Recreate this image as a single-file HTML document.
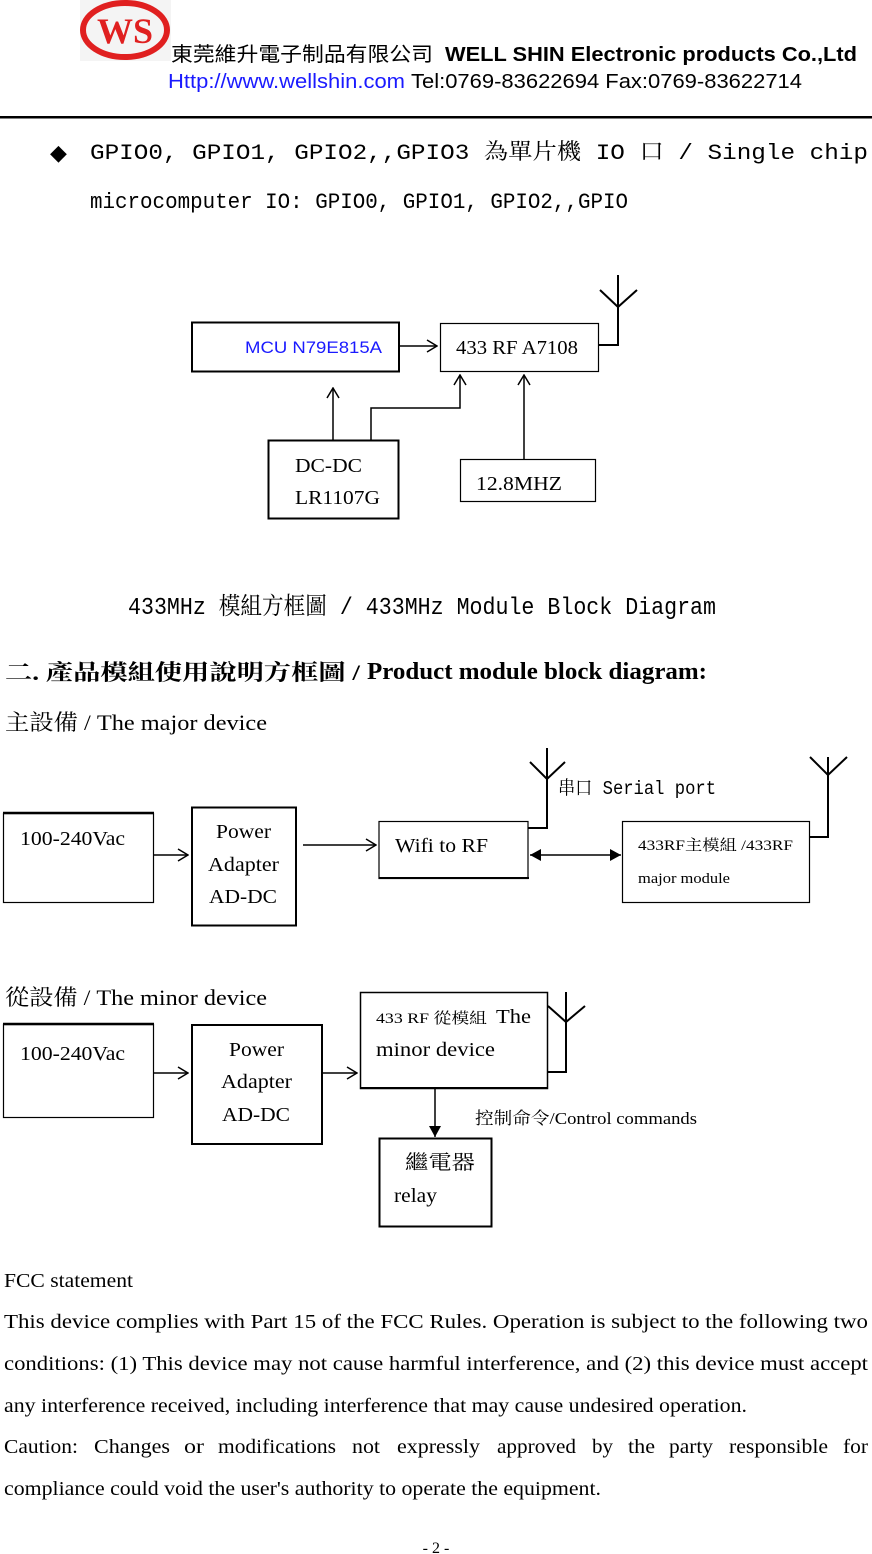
<!DOCTYPE html>
<html><head><meta charset="utf-8"><style>
html,body{margin:0;padding:0;background:#fff;}
svg{display:block;}
.s{font-family:"Liberation Serif","Noto Serif CJK SC",serif;}
.a{font-family:"Liberation Sans","Noto Sans CJK SC",sans-serif;}
.m{font-family:"Liberation Mono","Noto Serif CJK SC",monospace;}
</style></head><body>
<svg width="872" height="1554" viewBox="0 0 872 1554" xmlns="http://www.w3.org/2000/svg">
<defs>
<marker id="o" markerWidth="12" markerHeight="14" refX="11" refY="7" orient="auto" markerUnits="userSpaceOnUse"><path d="M1,1 L11,7 L1,13" fill="none" stroke="#000" stroke-width="1.5"/></marker>
<marker id="f" markerWidth="12" markerHeight="12" refX="11" refY="6" orient="auto-start-reverse" markerUnits="userSpaceOnUse"><path d="M0,0 L11,6 L0,12 z" fill="#000"/></marker>
</defs>
<rect x="80" y="0" width="91" height="61" fill="#f4f4f4"/>
<ellipse cx="125" cy="30" rx="42" ry="27" fill="none" stroke="#e02020" stroke-width="6"/>
<text x="125" y="43" text-anchor="middle" class="s" font-size="36" font-weight="bold" fill="#e02020">WS</text>
<text x="171" y="61" class="a" font-size="20" textLength="262" lengthAdjust="spacingAndGlyphs">東莞維升電子制品有限公司</text>
<text x="445" y="61" class="a" font-size="20" font-weight="bold" textLength="412" lengthAdjust="spacingAndGlyphs">WELL SHIN Electronic products Co.,Ltd</text>
<text x="168" y="88" class="a" font-size="20" fill="#1a1aff" textLength="237" lengthAdjust="spacingAndGlyphs">Http://www.wellshin.com</text>
<text x="411" y="88" class="a" font-size="20" textLength="391" lengthAdjust="spacingAndGlyphs">Tel:0769-83622694 Fax:0769-83622714</text>
<rect x="0" y="116" width="872" height="2.5" fill="#000"/>
<text x="50" y="160" font-size="22">◆</text>
<text x="90" y="159" class="m" font-size="22" textLength="778" lengthAdjust="spacingAndGlyphs">GPIO0,  GPIO1,  GPIO2,,GPIO3 為單片機 IO 口  / Single chip</text>
<text x="90" y="208" class="m" font-size="22" textLength="538" lengthAdjust="spacingAndGlyphs">microcomputer IO: GPIO0, GPIO1, GPIO2,,GPIO</text>

<g fill="none" stroke="#000">
<rect x="192" y="322.5" width="207" height="49" stroke-width="2"/>
<rect x="440.5" y="323.5" width="158" height="48" stroke-width="1.2"/>
<rect x="268.5" y="440.5" width="130" height="78" stroke-width="2"/>
<rect x="460.5" y="459.5" width="135" height="42" stroke-width="1.2"/>
<path d="M399,346 H437" stroke-width="1.5" marker-end="url(#o)"/>
<path d="M599,345 H618 V275 M600,290 L618,307 L637,290" stroke-width="2"/>
<path d="M333,440 V388" stroke-width="1.5" marker-end="url(#o)"/>
<path d="M371,440 V408 H460 V375" stroke-width="1.5" marker-end="url(#o)"/>
<path d="M524,459 V375" stroke-width="1.5" marker-end="url(#o)"/>
</g>
<text x="245" y="353" class="a" font-size="17" fill="#1a1aff" textLength="137" lengthAdjust="spacingAndGlyphs">MCU N79E815A</text>
<text x="456" y="354" class="s" font-size="20" textLength="122" lengthAdjust="spacingAndGlyphs">433 RF A7108</text>
<text x="295" y="472" class="s" font-size="20" textLength="67" lengthAdjust="spacingAndGlyphs">DC-DC</text>
<text x="295" y="504" class="s" font-size="20" textLength="85" lengthAdjust="spacingAndGlyphs">LR1107G</text>
<text x="476" y="490" class="s" font-size="20" textLength="86" lengthAdjust="spacingAndGlyphs">12.8MHZ</text>
<text x="128" y="614" class="m" font-size="24" textLength="588" lengthAdjust="spacingAndGlyphs">433MHz 模組方框圖 / 433MHz Module Block Diagram</text>

<text x="5" y="680" class="s" font-size="22" font-weight="bold" textLength="355" lengthAdjust="spacingAndGlyphs">二. 產品模組使用說明方框圖 /</text>
<text x="367" y="679" class="s" font-size="24" font-weight="bold" textLength="340" lengthAdjust="spacingAndGlyphs">Product module block diagram:</text>
<text x="5" y="730" class="s" font-size="22" textLength="262" lengthAdjust="spacingAndGlyphs">主設備 / The major device</text>

<g fill="none" stroke="#000">
<rect x="3.5" y="813.5" width="150" height="89" stroke-width="1.2"/>
<path d="M3,813 H154" stroke-width="2.5"/>
<rect x="192" y="807.5" width="104" height="118" stroke-width="2"/>
<rect x="379" y="821.5" width="149" height="57" stroke-width="1.2"/>
<path d="M379,878 H529" stroke-width="2"/>
<rect x="622.5" y="821.5" width="187" height="81" stroke-width="1.2"/>
<path d="M153,855 H188" stroke-width="1.5" marker-end="url(#o)"/>
<path d="M303,845 H376" stroke-width="1.5" marker-end="url(#o)"/>
<path d="M530,855 H621" stroke-width="1.5" marker-start="url(#f)" marker-end="url(#f)"/>
<path d="M528,828 H547 V748 M530,762 L547,779 L565,762" stroke-width="2"/>
<path d="M810,837 H828 V757 M810,757 L828,775 L847,757" stroke-width="2"/>
</g>
<text x="20" y="845" class="s" font-size="20" textLength="105" lengthAdjust="spacingAndGlyphs">100-240Vac</text>
<text x="216" y="838" class="s" font-size="20" textLength="55" lengthAdjust="spacingAndGlyphs">Power</text>
<text x="208" y="871" class="s" font-size="20" textLength="71" lengthAdjust="spacingAndGlyphs">Adapter</text>
<text x="209" y="903" class="s" font-size="20" textLength="68" lengthAdjust="spacingAndGlyphs">AD-DC</text>
<text x="395" y="852" class="s" font-size="20" textLength="93" lengthAdjust="spacingAndGlyphs">Wifi to RF</text>
<text x="638" y="850" class="s" font-size="15" textLength="155" lengthAdjust="spacingAndGlyphs">433RF主模組 /433RF</text>
<text x="638" y="883" class="s" font-size="15" textLength="92" lengthAdjust="spacingAndGlyphs">major module</text>
<text x="558" y="794" class="m" font-size="19" textLength="158" lengthAdjust="spacingAndGlyphs">串口 Serial port</text>

<text x="5" y="1005" class="s" font-size="22" textLength="262" lengthAdjust="spacingAndGlyphs">從設備 / The minor device</text>
<g fill="none" stroke="#000">
<rect x="3.5" y="1024.5" width="150" height="93" stroke-width="1.2"/>
<path d="M3,1024 H154" stroke-width="2.5"/>
<rect x="192" y="1025" width="130" height="119" stroke-width="2"/>
<rect x="360.5" y="992.5" width="187" height="96" stroke-width="1.5"/>
<path d="M360,1088 H548" stroke-width="2"/>
<rect x="379.5" y="1138.5" width="112" height="88" stroke-width="2"/>
<path d="M153,1073 H188" stroke-width="1.5" marker-end="url(#o)"/>
<path d="M322,1073 H357" stroke-width="1.5" marker-end="url(#o)"/>
<path d="M435,1088 V1137" stroke-width="1.5" marker-end="url(#f)"/>
<path d="M547,1072 H566 V992 M548,1006 L566,1022 L585,1006" stroke-width="2"/>
</g>
<text x="20" y="1060" class="s" font-size="20" textLength="105" lengthAdjust="spacingAndGlyphs">100-240Vac</text>
<text x="229" y="1056" class="s" font-size="20" textLength="55" lengthAdjust="spacingAndGlyphs">Power</text>
<text x="221" y="1088" class="s" font-size="20" textLength="71" lengthAdjust="spacingAndGlyphs">Adapter</text>
<text x="222" y="1121" class="s" font-size="20" textLength="68" lengthAdjust="spacingAndGlyphs">AD-DC</text>
<text x="376" y="1023" class="s" font-size="15" textLength="111" lengthAdjust="spacingAndGlyphs">433  RF  從模組</text>
<text x="496" y="1023" class="s" font-size="20" textLength="35" lengthAdjust="spacingAndGlyphs">The</text>
<text x="376" y="1056" class="s" font-size="20" textLength="119" lengthAdjust="spacingAndGlyphs">minor device</text>
<text x="475" y="1124" class="s" font-size="17" textLength="222" lengthAdjust="spacingAndGlyphs">控制命令/Control commands</text>
<text x="405" y="1169" class="s" font-size="20" textLength="70" lengthAdjust="spacingAndGlyphs">繼電器</text>
<text x="394" y="1202" class="s" font-size="20" textLength="43" lengthAdjust="spacingAndGlyphs">relay</text>

<g class="s" font-size="20" lengthAdjust="spacingAndGlyphs">
<text x="4" y="1287" textLength="129" lengthAdjust="spacingAndGlyphs">FCC statement</text>
<text x="4" y="1328" textLength="864" lengthAdjust="spacingAndGlyphs">This device complies with Part 15 of the FCC Rules. Operation is subject to the following two</text>
<text x="4" y="1370" textLength="864" lengthAdjust="spacingAndGlyphs">conditions: (1) This device may not cause harmful interference, and (2) this device must accept</text>
<text x="4" y="1412" textLength="743" lengthAdjust="spacingAndGlyphs">any interference received, including interference that may cause undesired operation.</text>
<text x="4" y="1453" textLength="74" lengthAdjust="spacingAndGlyphs">Caution:</text>
<text x="94" y="1453" textLength="76" lengthAdjust="spacingAndGlyphs">Changes</text>
<text x="184" y="1453" textLength="20" lengthAdjust="spacingAndGlyphs">or</text>
<text x="218" y="1453" textLength="118" lengthAdjust="spacingAndGlyphs">modifications</text>
<text x="352" y="1453" textLength="28" lengthAdjust="spacingAndGlyphs">not</text>
<text x="397" y="1453" textLength="83" lengthAdjust="spacingAndGlyphs">expressly</text>
<text x="497" y="1453" textLength="79" lengthAdjust="spacingAndGlyphs">approved</text>
<text x="592" y="1453" textLength="21" lengthAdjust="spacingAndGlyphs">by</text>
<text x="628" y="1453" textLength="27" lengthAdjust="spacingAndGlyphs">the</text>
<text x="669" y="1453" textLength="44" lengthAdjust="spacingAndGlyphs">party</text>
<text x="729" y="1453" textLength="99" lengthAdjust="spacingAndGlyphs">responsible</text>
<text x="843" y="1453" textLength="25" lengthAdjust="spacingAndGlyphs">for</text>
<text x="4" y="1495" textLength="597" lengthAdjust="spacingAndGlyphs">compliance could void the user's authority to operate the equipment.</text>
</g>
<text x="436" y="1553" text-anchor="middle" class="s" font-size="16">- 2 -</text>
</svg>
</body></html>
